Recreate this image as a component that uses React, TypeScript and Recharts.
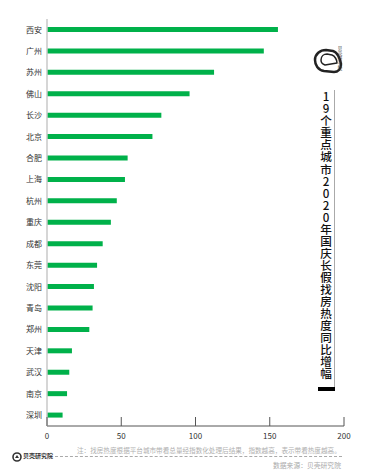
import React from "react";
import { BarChart, Bar, XAxis, YAxis } from "recharts";

const cities = ["西安", "广州", "苏州", "佛山", "长沙", "北京", "合肥", "上海", "杭州", "重庆", "成都", "东莞", "沈阳", "青岛", "郑州", "天津", "武汉", "南京", "深圳"];
const growth = [155.5, 146, 112.5, 96, 77, 71, 54.3, 52.5, 47, 43, 37.5, 33.7, 31.6, 30.7, 28.5, 16.8, 15, 13.5, 10.5];
const xTicks = [0, 50, 100, 150, 200];

const title = "19个重点城市2020年国庆长假找房热度同比增幅";
const note = "注：找房热度根据平台城市带看总量经指数化处理后结果，指数越高，表示带看热度越高。";
const source = "数据来源：贝壳研究院";
const brand = "贝壳研究院";

const data = cities.map((c, i) => ({ city: c, value: growth[i] }));

const FONT = "'Noto Sans CJK SC', 'Noto Sans', sans-serif";

const XTick = (props: any) => {
  const { x, y, payload } = props;
  return (
    <g>
      <line x1={x} x2={x} y1={y - 9} y2={y} stroke="#555" strokeWidth={1} />
      <text x={x} y={y + 13} textAnchor="middle" fontSize={8} fill="#333" fontFamily={FONT}>
        {payload.value}
      </text>
    </g>
  );
};

export default function App() {
  return (
    <div style={{ position: "absolute", left: 0, top: 0, width: 372, height: 475, background: "#fff", fontFamily: FONT }}>
      <BarChart
        width={372}
        height={475}
        layout="vertical"
        data={data}
        margin={{ top: 19, right: 28, left: 0, bottom: 19 }}
      >
        <XAxis
          type="number"
          domain={[0, 200]}
          ticks={xTicks}
          height={30}
          tickSize={0}
          tickMargin={0}
          tickLine={false}
          tick={<XTick />}
          axisLine={{ stroke: "#555" }}
          interval={0}
        />
        <YAxis
          type="category"
          dataKey="city"
          width={47}
          tickSize={5}
          tickMargin={0}
          tickLine={false}
          axisLine={{ stroke: "#c8c8c8", strokeWidth: 1.5 }}
          tick={{ fontSize: 8, fill: "#333", fontFamily: FONT }}
          interval={0}
        />
        <Bar dataKey="value" fill="#00B14A" barSize={5} isAnimationActive={false} />
      </BarChart>

      {/* right logo */}
      <svg style={{ position: "absolute", left: 310, top: 44 }} width={36} height={34}>
        <path d="M5 16 C5 10 10 6 16 6 L23 7 C27 8 30 14 31 20 C31 25 28 28 24 28 L14 27 C8 26 5 21 5 16 Z" fill="none" stroke="#222" strokeWidth={2.5} strokeLinejoin="round" />
        <path d="M11 16 C11 12 14 10 17 10 L22 11 C25 12 27 16 27 19 L15 21 C12 20 11 18 11 16 Z" fill="none" stroke="#222" strokeWidth={1.5} strokeLinejoin="round" />
      </svg>
      <div style={{ position: "absolute", left: 337, top: 46, writingMode: "vertical-rl", textOrientation: "upright", fontSize: 4.5, lineHeight: "6px", color: "#333", letterSpacing: 0.5 }}>
        {brand}
      </div>

      {/* vertical title */}
      <div style={{ position: "absolute", left: 319, top: 91, writingMode: "vertical-rl", textOrientation: "upright", fontSize: 11.6, lineHeight: "14px", color: "#111", fontWeight: 500, letterSpacing: 0.45 }}>
        {title}
      </div>
      <div style={{ position: "absolute", left: 334, top: 90, width: 1, height: 298, background: "#aaa" }} />
      <div style={{ position: "absolute", left: 318, top: 387, width: 17, height: 4, background: "#000" }} />

      {/* footer */}
      <div style={{ position: "absolute", left: 77, top: 445, fontSize: 6.6, color: "#b0b0b0", whiteSpace: "nowrap", lineHeight: "10px" }}>
        {note}
      </div>
      <div style={{ position: "absolute", left: 55, top: 456, width: 287, height: 0, borderTop: "1px dashed #aaa" }} />
      <svg style={{ position: "absolute", left: 12, top: 452 }} width={10} height={10}>
        <circle cx={5} cy={5} r={4} fill="none" stroke="#333" strokeWidth={1.6} />
        <path d="M3 6 L5 3 L7 6 Z" fill="#333" />
      </svg>
      <div style={{ position: "absolute", left: 23, top: 452, fontSize: 6, color: "#333", fontWeight: 700, whiteSpace: "nowrap", lineHeight: "8px" }}>
        {brand}
      </div>
      <div style={{ position: "absolute", left: 273, top: 460, fontSize: 6.8, color: "#aaa", whiteSpace: "nowrap", lineHeight: "10px" }}>
        {source}
      </div>
    </div>
  );
}
